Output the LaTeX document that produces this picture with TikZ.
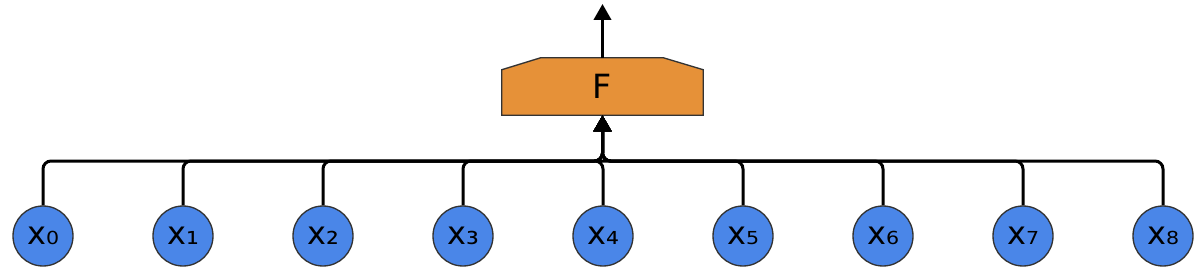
\documentclass[tikz,border=0pt]{standalone}
\usepackage{fontspec}
\setmainfont{DejaVu Sans}
\usetikzlibrary{arrows.meta, backgrounds}
\definecolor{inblue}{HTML}{4A86E8}
\definecolor{forange}{HTML}{E69138}
\definecolor{edgegray}{HTML}{333333}
\tikzset{
  xin/.style={circle, draw=edgegray, fill=inblue, line width=1pt, minimum size=45pt, inner sep=0pt, font=\fontsize{24}{28}\selectfont},
  fbox/.style={minimum width=150.75pt, minimum height=42.75pt, inner sep=0pt, font=\fontsize{25}{30}\selectfont},
  bus/.style={line width=2.25pt, rounded corners=6pt, -{Triangle[length=12pt,width=13pt]}}
}
\begin{document}
\begin{tikzpicture}[x=0.75pt, y=-0.75pt]
  \useasboundingbox (0,0) rectangle (1200,271);
  % Inputs
  \foreach \i/\s in {0/₀,1/₁,2/₂,3/₃,4/₄,5/₅,6/₆,7/₇,8/₈}
    \node[xin] (x\i) at (43+140*\i, 236) {x\s};
  % Combining block
  \node[fbox] (F) at (602.5,86.5) {F};
  \begin{scope}[on background layer]
    \filldraw[fill=forange, draw=edgegray, line width=1pt]
      (F.south west) -- ([yshift=-9pt]F.north west) -- ([xshift=29.25pt]F.north west)
      -- ([xshift=-30pt]F.north east) -- ([yshift=-9pt]F.north east) -- (F.south east) -- cycle;
  \end{scope}
  % Bus into F
  \coordinate (hub) at (602.5,161);
  \foreach \i in {0,...,8}
    \draw[bus] (x\i.north) |- (hub) -- (F.south);
  % Output
  \coordinate (out) at (602.5,4);
  \draw[bus] (F.north) -- (out);
\end{tikzpicture}
\end{document}
